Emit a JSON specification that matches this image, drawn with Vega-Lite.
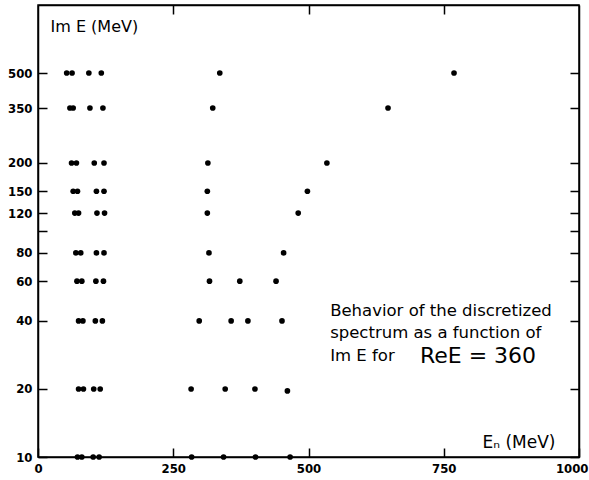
{
  "$schema": "https://vega.github.io/schema/vega-lite/v6.json",
  "width": 541,
  "height": 452,
  "autosize": "none",
  "padding": {"left": 38, "top": 5, "right": 10, "bottom": 23},
  "background": "white",
  "config": {
    "view": {"stroke": "black", "strokeWidth": 1.5},
    "axis": {
      "grid": false,
      "domainColor": "black",
      "domainWidth": 1.5,
      "tickColor": "black",
      "tickWidth": 1.5,
      "tickSize": -9,
      "labelColor": "black",
      "labelFont": "DejaVu Sans Condensed",
      "labelFontWeight": "bold",
      "labelFontSize": 13,
      "labelFlush": false,
      "labelOverlap": false,
      "titleColor": "black"
    }
  },
  "datasets": {
    "points": [
      {"En": 53, "ImE": 500}, {"En": 63, "ImE": 500}, {"En": 94, "ImE": 500}, {"En": 117, "ImE": 500}, {"En": 336, "ImE": 500}, {"En": 769, "ImE": 500},
      {"En": 59, "ImE": 350}, {"En": 65, "ImE": 350}, {"En": 96, "ImE": 350}, {"En": 120, "ImE": 350}, {"En": 323, "ImE": 350}, {"En": 647, "ImE": 350},
      {"En": 62, "ImE": 200}, {"En": 71, "ImE": 200}, {"En": 104, "ImE": 200}, {"En": 122, "ImE": 200}, {"En": 314, "ImE": 200}, {"En": 534, "ImE": 200},
      {"En": 65, "ImE": 150}, {"En": 73, "ImE": 150}, {"En": 108, "ImE": 150}, {"En": 122, "ImE": 150}, {"En": 313, "ImE": 150}, {"En": 498, "ImE": 150},
      {"En": 68, "ImE": 120}, {"En": 75, "ImE": 120}, {"En": 109, "ImE": 120}, {"En": 123, "ImE": 120}, {"En": 313, "ImE": 120}, {"En": 481, "ImE": 120},
      {"En": 70, "ImE": 80}, {"En": 79, "ImE": 80}, {"En": 108, "ImE": 80}, {"En": 122, "ImE": 80}, {"En": 316, "ImE": 80}, {"En": 454, "ImE": 80},
      {"En": 72, "ImE": 60}, {"En": 81, "ImE": 60}, {"En": 107, "ImE": 60}, {"En": 121, "ImE": 60}, {"En": 317, "ImE": 60}, {"En": 373, "ImE": 60}, {"En": 440, "ImE": 60},
      {"En": 75, "ImE": 40}, {"En": 83, "ImE": 40}, {"En": 106, "ImE": 40}, {"En": 119, "ImE": 40}, {"En": 298, "ImE": 40}, {"En": 357, "ImE": 40}, {"En": 388, "ImE": 40}, {"En": 451, "ImE": 40},
      {"En": 75, "ImE": 20}, {"En": 84, "ImE": 20}, {"En": 103, "ImE": 20}, {"En": 115, "ImE": 20}, {"En": 283, "ImE": 20}, {"En": 346, "ImE": 20}, {"En": 401, "ImE": 20}, {"En": 461, "ImE": 19.6},
      {"En": 73, "ImE": 10}, {"En": 81, "ImE": 10}, {"En": 102, "ImE": 10}, {"En": 113, "ImE": 10}, {"En": 284, "ImE": 10}, {"En": 343, "ImE": 10}, {"En": 402, "ImE": 10}, {"En": 466, "ImE": 10}
    ],
    "notes": [
      {"line": "Behavior of the discretized", "x": 540, "y": 44.3},
      {"line": "spectrum as a function of", "x": 540, "y": 35.4},
      {"line": "Im E  for", "x": 540, "y": 28}
    ],
    "big": [
      {"line": "ReE = 360", "x": 706, "y": 28}
    ]
  },
  "layer": [
    {
      "data": {"name": "points"},
      "mark": {"type": "circle", "size": 32, "color": "black", "opacity": 1},
      "encoding": {
        "x": {
          "field": "En", "type": "quantitative",
          "scale": {"domain": [0, 1000], "nice": false, "zero": false},
          "axis": {
            "values": [0, 250, 500, 750, 1000],
            "format": "d",
            "labelPadding": 14,
            "labelAlign": {"condition": {"test": "datum.value == 1000", "value": "right"}, "value": "center"},
            "labelOffset": {"condition": {"test": "datum.value == 1000", "value": 9}, "value": 0},
            "title": "Eₙ (MeV)",
            "titleFont": "DejaVu Sans",
            "titleFontSize": 17,
            "titleFontWeight": "normal",
            "titleAnchor": "start",
            "titleAlign": "left",
            "titleBaseline": "middle",
            "titleX": 444,
            "titleY": -15
          }
        },
        "y": {
          "field": "ImE", "type": "quantitative",
          "scale": {"type": "log", "domain": [10, 1000], "nice": false},
          "axis": {
            "values": [10, 20, 40, 60, 80, 100, 120, 150, 200, 350, 500],
            "format": "d",
            "labelExpr": "datum.value == 100 ? '' : datum.label",
            "labelPadding": 15,
            "title": "Im E (MeV)",
            "titleFont": "DejaVu Sans",
            "titleFontSize": 16,
            "titleFontWeight": "normal",
            "titleAngle": 0,
            "titleAlign": "left",
            "titleBaseline": "middle",
            "titleAnchor": "start",
            "titleX": 12,
            "titleY": 21
          }
        }
      }
    },
    {
      "data": {"name": "points"},
      "mark": {"type": "circle", "size": 1, "opacity": 0},
      "encoding": {
        "x": {
          "field": "En", "type": "quantitative",
          "axis": {"orient": "top", "values": [250, 500, 750], "labels": false, "title": null}
        },
        "y": {
          "field": "ImE", "type": "quantitative",
          "axis": {"orient": "right", "values": [10, 20, 40, 60, 80, 100, 120, 150, 200, 350, 500], "labels": false, "title": null}
        }
      }
    },
    {
      "data": {"name": "notes"},
      "mark": {"type": "text", "align": "left", "baseline": "middle", "font": "DejaVu Sans", "fontSize": 16.5, "color": "black"},
      "encoding": {
        "x": {"field": "x", "type": "quantitative", "axis": null},
        "y": {"field": "y", "type": "quantitative", "axis": null},
        "text": {"field": "line"}
      }
    },
    {
      "data": {"name": "big"},
      "mark": {"type": "text", "align": "left", "baseline": "middle", "font": "DejaVu Sans", "fontSize": 22, "color": "black"},
      "encoding": {
        "x": {"field": "x", "type": "quantitative", "axis": null},
        "y": {"field": "y", "type": "quantitative", "axis": null},
        "text": {"field": "line"}
      }
    }
  ],
  "resolve": {"axis": {"x": "independent", "y": "independent"}}
}
